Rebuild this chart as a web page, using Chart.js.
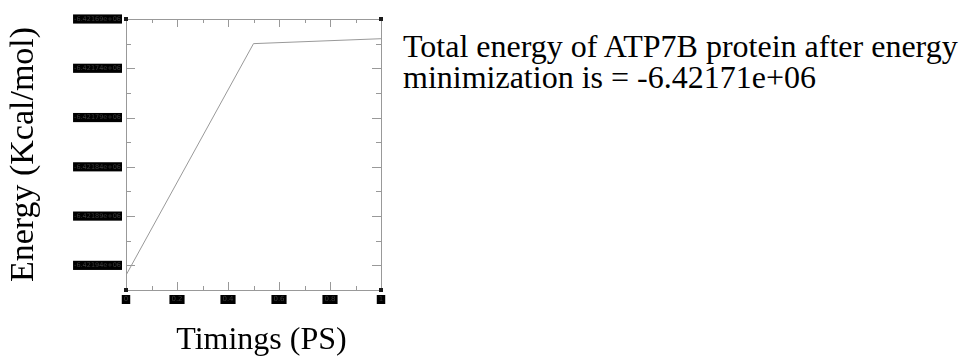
<!DOCTYPE html>
<html>
<head>
<meta charset="utf-8">
<script src="https://cdn.jsdelivr.net/npm/chart.js@4.4.0/dist/chart.umd.min.js"></script>
<style>
  html, body { margin: 0; padding: 0; background: #fff; }
  #wrap { position: relative; width: 967px; height: 358px; overflow: hidden; }
  #box { position: absolute; left: 0; top: 0; width: 400px; height: 358px; }
  #note {
    position: absolute; left: 403px; top: 31px;
    font-family: "Liberation Serif", "Times New Roman", serif;
    font-size: 32px; line-height: 31px; color: #000; white-space: nowrap;
  }
</style>
</head>
<body>
<div id="wrap">
  <div id="box"><canvas id="energyChart"></canvas></div>
  <div id="note">Total energy of ATP7B protein after energy<br>minimization is = -6.42171e+06</div>
</div>
<script>
// values
const timings = [0, 0.5, 1];
const energies = [-6421950, -6421715, -6421710];

const xTicks = [0, 0.2, 0.4, 0.6, 0.8, 1];
const xMinor = [0.1, 0.3, 0.5, 0.7, 0.9];
const yTicks = [-6421940, -6421890, -6421840, -6421790, -6421740, -6421690];
const yMinor = [-6421915, -6421865, -6421815, -6421765, -6421715];
const yMin = -6421965;
const yMax = -6421690;

// frame, inward tick marks and the little corner squares
const framePlugin = {
  id: 'framePlugin',
  afterDatasetsDraw(chart) {
    const { ctx, chartArea: a, scales: { x, y } } = chart;
    const snap = v => Math.round(v) + 0.5;
    ctx.save();
    ctx.strokeStyle = '#999';
    ctx.lineWidth = 1;
    ctx.beginPath();
    const xMark = (v, len) => {
      const px = snap(x.getPixelForValue(v));
      ctx.moveTo(px, a.bottom); ctx.lineTo(px, a.bottom - len);
      ctx.moveTo(px, a.top); ctx.lineTo(px, a.top + len);
    };
    const yMark = (v, len) => {
      const py = snap(y.getPixelForValue(v));
      ctx.moveTo(a.left, py); ctx.lineTo(a.left + len, py);
      ctx.moveTo(a.right, py); ctx.lineTo(a.right - len, py);
    };
    xTicks.forEach(v => xMark(v, 8));
    xMinor.forEach(v => xMark(v, 4));
    yTicks.forEach(v => yMark(v, 9));
    yMinor.forEach(v => yMark(v, 5));
    ctx.stroke();
    ctx.strokeRect(snap(a.left), snap(a.top), Math.round(a.right - a.left), Math.round(a.bottom - a.top));
    ctx.fillStyle = '#1a1a1a';
    [[a.left, a.top], [a.right, a.top], [a.left, a.bottom], [a.right, a.bottom]].forEach(([cx, cy]) => {
      ctx.fillRect(Math.round(cx) - 2, Math.round(cy) - 2, 4, 4);
    });
    ctx.restore();
  }
};

const ctx = document.getElementById('energyChart').getContext('2d');
new Chart(ctx, {
  type: 'line',
  data: {
    datasets: [{
      data: timings.map((t, i) => ({ x: t, y: energies[i] })),
      borderColor: '#999',
      borderWidth: 1,
      pointRadius: 0,
      tension: 0,
      fill: false
    }]
  },
  options: {
    responsive: true,
    maintainAspectRatio: false,
    animation: false,
    layout: { padding: { top: 19, right: 19, bottom: 0, left: 0 } },
    plugins: { legend: { display: false }, tooltip: { enabled: false } },
    scales: {
      x: {
        type: 'linear',
        min: 0,
        max: 1,
        afterBuildTicks: s => { s.ticks = xTicks.map(v => ({ value: v })); },
        afterFit: s => { s.height = 68; },
        grid: { display: false, drawTicks: false },
        border: { display: false },
        ticks: {
          padding: 6,
          font: { family: 'DejaVu Sans', size: 7, lineHeight: 1 },
          color: '#3a3a3a',
          showLabelBackdrop: true,
          backdropColor: '#000',
          backdropPadding: { top: 1, bottom: 1, left: 2, right: 2 },
          maxRotation: 0,
          callback: v => String(v)
        },
        title: {
          display: true,
          text: '  Timings (PS)',
          color: '#000',
          padding: { top: 0, bottom: 1 },
          font: { family: 'Liberation Serif', size: 32, lineHeight: 1 }
        }
      },
      y: {
        type: 'linear',
        min: yMin,
        max: yMax,
        afterBuildTicks: s => { s.ticks = yTicks.map(v => ({ value: v })); },
        afterFit: s => { s.width = 126; },
        grid: { display: false, drawTicks: false },
        border: { display: false },
        ticks: {
          padding: 5,
          font: { family: 'DejaVu Sans', size: 6.5, lineHeight: 1.1 },
          color: '#3a3a3a',
          showLabelBackdrop: true,
          backdropColor: '#000',
          backdropPadding: 1,
          callback: v => (v / 1e6).toFixed(5) + 'e+06'
        },
        title: {
          display: true,
          text: 'Energy (Kcal/mol)',
          color: '#000',
          padding: { top: 7, bottom: 0 },
          font: { family: 'Liberation Serif', size: 34, lineHeight: 1 }
        }
      }
    }
  },
  plugins: [framePlugin]
});
</script>
</body>
</html>
